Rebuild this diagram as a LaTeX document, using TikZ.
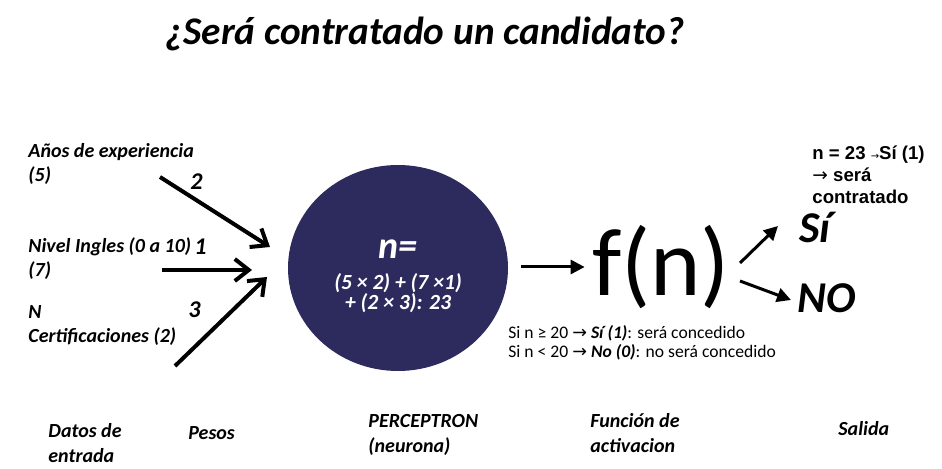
\documentclass[tikz,border=0pt]{standalone}
\usepackage{fontspec}
\setmainfont{Carlito}
\newfontfamily\arialfont{Liberation Sans}
\newfontfamily\symfont{DejaVu Sans}
\usetikzlibrary{arrows.meta,shapes.geometric}
\definecolor{neurona azul}{RGB}{45,43,94}
\def\flecha{{\symfont\mdseries →}}
\tikzset{etiqueta/.style={font=\bfseries\itshape\fontsize{10}{12}\selectfont, align=left, anchor=north west, inner sep=0pt},
	peso/.style={font=\bfseries\itshape\fontsize{12}{14}\selectfont, anchor=base west, inner sep=0pt},
	pie/.style={font=\bfseries\itshape\fontsize{10}{12.5}\selectfont, align=left, anchor=base west, inner sep=0pt},
	entrada/.style={-{Straight Barb[length=7pt,width=11pt]}, line width=2pt},
	salida/.style={-{Triangle[length=7pt,width=7pt]}, line width=1.5pt}}

\begin{document}
\begin{tikzpicture}[x=0.5pt,y=-0.5pt]
		\useasboundingbox (0,0) rectangle (942,469);
		\node[font=\bfseries\itshape\fontsize{19.6}{22}\selectfont, anchor=base] (titulo) at (425,45) {¿Será contratado un candidato?};
		
		% datos de entrada
		\node[etiqueta] (anos) at (28,143) {Años de experiencia\\(5)};
		\node[etiqueta] (ingles) at (28,237) {Nivel Ingles (0 a 10)\\(7)};
		\node[etiqueta] (cert) at (28,305) {N\\Certificaciones (2)};
		\node[peso] (p2) at (190,190) {2};
		\node[peso] (p1) at (194,255) {1};
		\node[peso] (p3) at (188,318) {3};
		\coordinate (a1) at (160,177);
		\coordinate (a2) at (162,270);
		\coordinate (a3) at (175,366);
		\coordinate (b1) at (270,247);
		\coordinate (b2) at (252,270);
		\coordinate (b3) at (267,277);
		\draw[entrada] (a1) -- (b1);
		\draw[entrada] (a2) -- (b2);
		\draw[entrada] (a3) -- (b3);
		
		% neurona
		\node[ellipse, fill=neurona azul, minimum width=110pt, minimum height=103pt] (neurona) at (398,268) {};
		\node[text=white, align=center, font=\bfseries\itshape\fontsize{10.8}{9.8}\selectfont, inner sep=0pt] (suma) at (398,276)
		{{\fontsize{19}{15.5}\selectfont n=}\\[6pt](5 × 2) + (7 ×1)\\+ (2 × 3): 23};
		
		% funcion de activacion
		\node[inner sep=0pt, font=\fontsize{48}{48}\selectfont] (fn) at (661,267) {f(n)};
		\draw[salida] ([xshift=6.5pt]neurona.east |- fn) -- ([xshift=-3.5pt]fn.west);
		\node[font=\bfseries\itshape\fontsize{22}{24}\selectfont, anchor=base west, inner sep=0pt] (si) at (799,243) {Sí};
		\node[font=\bfseries\itshape\fontsize{22}{24}\selectfont, anchor=base west, inner sep=0pt] (no) at (797,313) {NO};
		\coordinate (fsi) at (740,263);
		\coordinate (fno) at (740,281);
		\draw[salida] (fsi) -- (778,226);
		\draw[salida] (fno) -- (791,300);
		\node[font=\fontsize{8.8}{9.5}\selectfont, align=left, anchor=north west, inner sep=0pt] (regla) at (508,325)
		{Si n ≥ 20 \flecha{} \textbf{\textit{Sí (1)}}: será concedido\\Si n < 20 \flecha{} \textbf{\textit{No (0)}}: no será concedido};
		\node[font=\arialfont\bfseries\fontsize{9.3}{11}\selectfont, align=left, anchor=north west, inner sep=0pt] (caso) at (812,145)
		{n = 23 {\fontsize{5}{5}\selectfont\flecha}Sí (1)\\\flecha{} será\\contratado};
		
		% pie
		\node[pie] (datos) at (48,463) {Datos de\\entrada};
		\node[pie] (pesos) at (188,440) {Pesos};
		\node[pie] (percep) at (368,453) {PERCEPTRON\\(neurona)};
		\node[pie] (func) at (590,453) {Función de\\activacion};
		\node[pie] (salida) at (838,436) {Salida};
		\end{tikzpicture}
\end{document}
